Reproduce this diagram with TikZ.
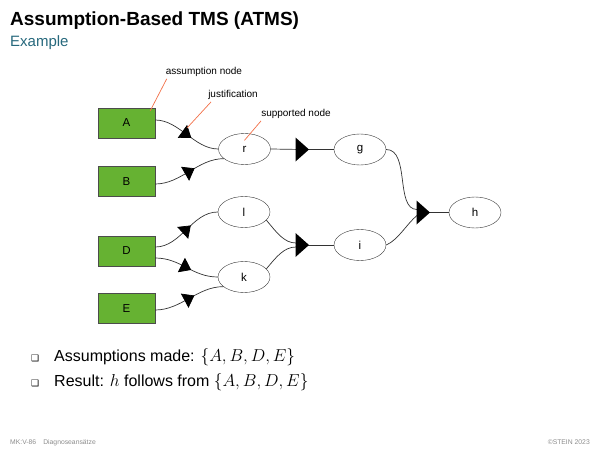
\documentclass[tikz,border=0pt]{standalone}
\usepackage{fontspec}
\setmainfont{Liberation Sans}
\newfontfamily\symfont{DejaVu Sans}
\usetikzlibrary{arrows.meta,decorations.markings,shapes.geometric}
\definecolor{boxgreen}{RGB}{102,178,50}
\definecolor{annoorange}{RGB}{242,112,72}
\definecolor{subteal}{RGB}{38,104,124}
\definecolor{footgray}{RGB}{140,140,140}
\begin{document}
\begin{tikzpicture}[x=1pt,y=-1pt,
  assum/.style={draw=black!70,fill=boxgreen,minimum width=57pt,minimum height=30pt,inner sep=0pt,font=\fontsize{11.5}{13}\selectfont},
  dat/.style={draw=black!80,ellipse,minimum width=52pt,minimum height=31pt,inner sep=0pt,fill=white,font=\fontsize{11.5}{13}\selectfont},
  link/.style={draw=black!80,line width=0.7pt},
  midarrow/.style={postaction={decorate},decoration={markings,mark=at position #1 with {\arrow[black]{Triangle[length=11pt,width=16pt]}}}},
  anno/.style={draw=annoorange,line width=0.7pt},
  lbl/.style={font=\fontsize{10}{12}\selectfont,inner sep=2pt},
  bul/.style={anchor=base west,inner sep=0pt,font=\fontsize{16}{19}\selectfont},
  bulmark/.style={anchor=base west,inner sep=0pt,font=\symfont\fontsize{9}{10}\selectfont},
  foot/.style={inner sep=0pt,text=footgray,font=\fontsize{6.8}{8}\selectfont},
  jtri/.pic={\fill[black] (-6.5,-12) -- (7,0) -- (-6.5,12) -- cycle;}
]
\useasboundingbox (0,0) rectangle (600,450);

% title
\node[anchor=base west,inner sep=0pt,font=\fontsize{19}{22}\selectfont\bfseries] (title) at (10,25) {Assumption-Based TMS (ATMS)};
\node[anchor=base west,inner sep=0pt,text=subteal,font=\fontsize{15}{18}\selectfont] (sub) at (10,46) {Example};

% nodes
\node[assum] (A) at (126.5,123) {A};
\node[assum] (B) at (126.5,181.5) {B};
\node[assum] (D) at (126.5,251) {D};
\node[assum] (E) at (126.5,308.5) {E};
\node[dat] (r) at (244.5,149) {r};
\node[dat] (l) at (244,212) {l};
\node[dat] (k) at (244,277) {k};
\node[dat] (g) at (360,149.5) {g};
\node[dat] (i) at (360,245) {i};
\node[dat] (h) at (475,212.5) {h};

\coordinate (j1) at (302,149.5);
\coordinate (j2) at (302,245);
\coordinate (j3) at (423,212.5);
\coordinate (jA) at (187,128);

% connectors from assumptions
\draw[link,midarrow=0.58] ([yshift=3pt]A.east) .. controls +(24,0) and +(-24,0) .. (r.west);
\draw[link,midarrow=0.58] ([yshift=-2.5pt]B.east) .. controls +(26,0) and +(-26,0) .. (r.205);
\draw[link,midarrow=0.58] ([yshift=4pt]D.east) .. controls +(26,0) and +(-26,0) .. (l.west);
\draw[link,midarrow=0.58] ([yshift=-7pt]D.east) .. controls +(26,0) and +(-26,0) .. (k.west);
\draw[link,midarrow=0.58] ([yshift=-1.5pt]E.east) .. controls +(26,0) and +(-26,0) .. (k.205);

% justifications
\draw[link] (r.east) -- (j1) -- (g.west);
\pic at (j1) {jtri};
\draw[link] (l.-20) .. controls +(10,12) and +(-12,0) .. ([xshift=-6pt,yshift=2pt]j2);
\draw[link] (k.20) .. controls +(10,-12) and +(-12,0) .. ([xshift=-6pt,yshift=-2pt]j2);
\draw[link] (j2) -- (i.west);
\pic at (j2) {jtri};
\draw[link] (g.east) .. controls +(24,0) and +(-22,0) .. ([xshift=-6pt,yshift=3pt]j3);
\draw[link] (i.east) .. controls +(12,-5) and +(-10,8) .. ([xshift=-6pt,yshift=-3pt]j3);
\draw[link] (j3) -- (h.west);
\pic at (j3) {jtri};

% annotations
\node[lbl] (tA) at (204,72) {assumption node};
\node[lbl] (tJ) at (233,95) {justification};
\node[lbl] (tS) at (296,114) {supported node};
\draw[anno] ([xshift=3pt]tA.south west) -- ([xshift=-5pt,yshift=-3pt]A.north east);
\draw[anno] ([xshift=5pt]tJ.south west) -- (jA);
\draw[anno] ([xshift=2pt]tS.south west) -- ([yshift=-7pt]r.north);

% bullets
\node[bulmark] (m1) at (31,361) {❑};
\node[bul] (b1) at (54,361) {Assumptions made: $\{A,B,D,E\}$};
\node[bulmark] (m2) at (31,386) {❑};
\node[bul] (b2) at (54,386) {Result: $h$ follows from $\{A,B,D,E\}$};

% footer
\node[foot,anchor=base west] (f1) at (10,444) {MK:V-86\hspace{7pt}Diagnoseansätze};
\node[foot,anchor=base east] (f2) at (590,444) {©STEIN 2023};
\end{tikzpicture}
\end{document}
